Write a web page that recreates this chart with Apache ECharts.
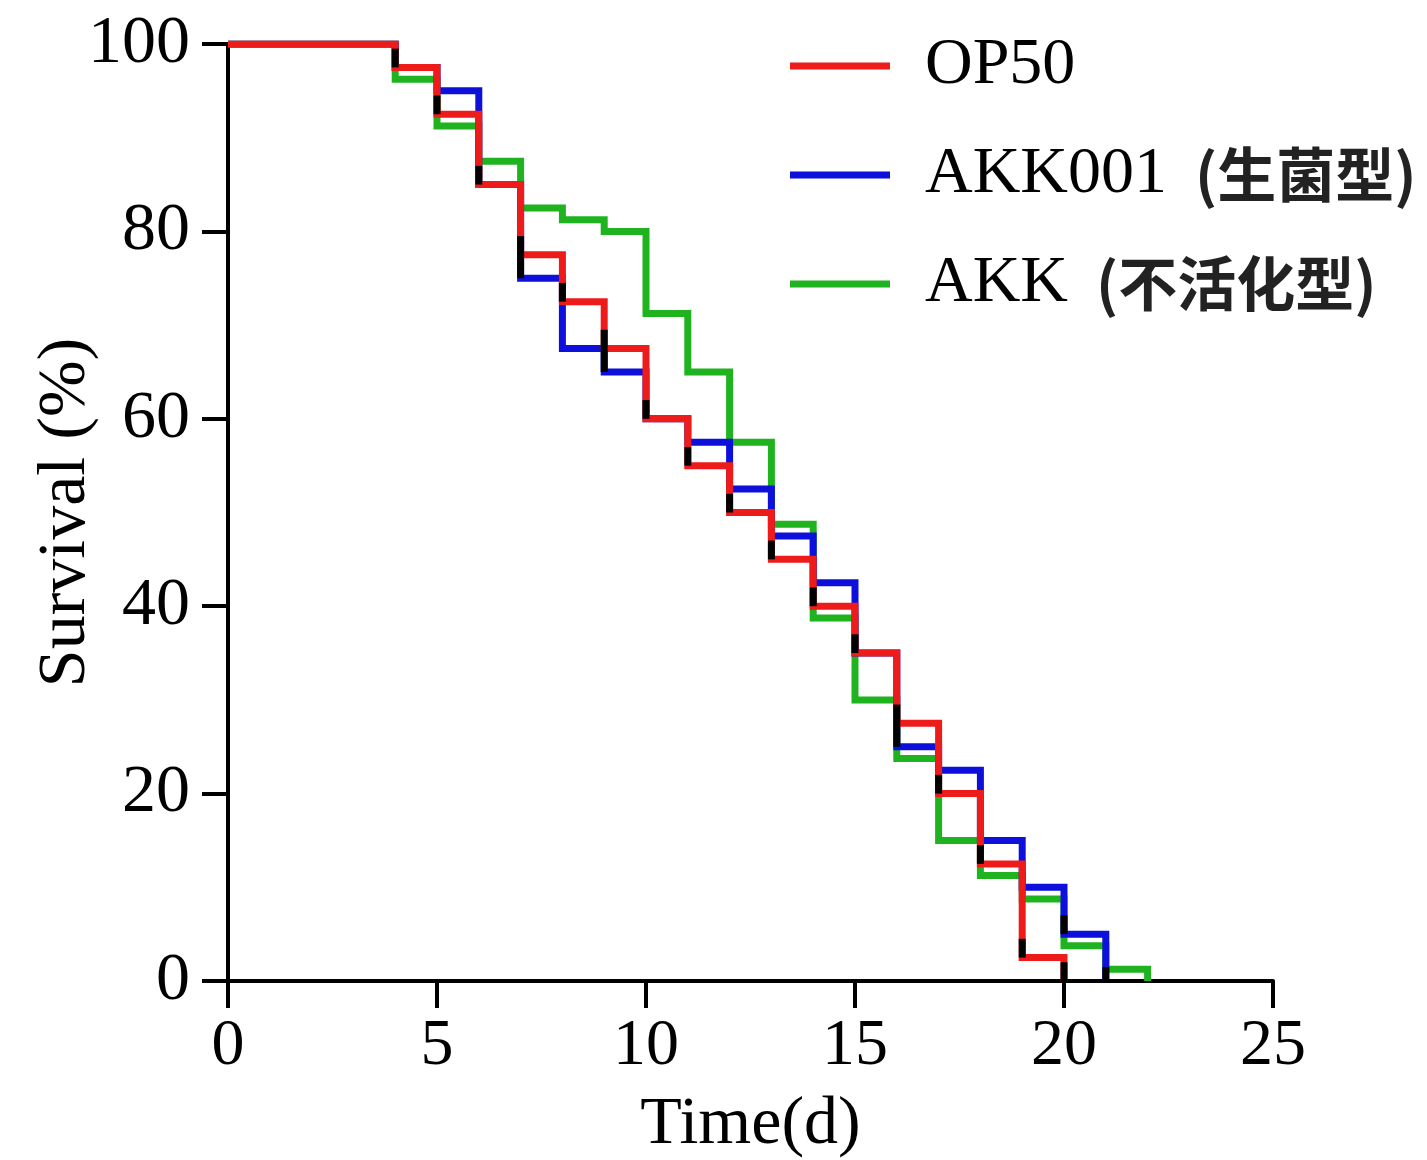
<!DOCTYPE html>
<html>
<head>
<meta charset="utf-8">
<script src="https://cdn.jsdelivr.net/npm/echarts@6/dist/echarts.min.js"></script>
<style>
html,body{margin:0;padding:0;background:#fff;}
#chart{width:1427px;height:1160px;}
</style>
</head>
<body>
<div id="chart"></div>
<script>
// Survival (%) at each day (Kaplan-Meier steps)
const seriesNames = ['OP50', 'AKK001 (生菌型)', 'AKK (不活化型)'];
const op50Days = [0, 4, 5, 6, 7, 8, 9, 10, 11, 12, 13, 14, 15, 16, 17, 18, 19, 20];
const op50Surv = [100, 97.5, 92.5, 85, 77.5, 72.5, 67.5, 60, 55, 50, 45, 40, 35, 27.5, 20, 12.5, 2.5, 0];
const akkLiveDays = [0, 4, 5, 6, 7, 8, 9, 10, 11, 12, 13, 14, 15, 16, 17, 18, 19, 20, 21];
const akkLiveSurv = [100, 97.5, 95, 85, 75, 67.5, 65, 60, 57.5, 52.5, 47.5, 42.5, 35, 25, 22.5, 15, 10, 5, 0];
const akkDeadDays = [0, 4, 5, 6, 7, 8, 9, 10, 11, 12, 13, 14, 15, 16, 17, 18, 19, 20, 21, 22];
const akkDeadSurv = [100, 96.25, 91.25, 87.5, 82.5, 81.25, 80, 71.25, 65, 57.5, 48.75, 38.75, 30, 23.75, 15, 11.25, 8.75, 3.75, 1.25, 0];
// black tick marks on drops: day, low %, high %
const markDays = [4, 5, 6, 7, 8, 9, 10, 11, 12, 13, 14, 15, 16, 17, 18, 19, 20, 20, 21];
const markLow  = [97.5, 92.5, 85, 75, 72.5, 65, 60, 55, 50, 45, 40, 35, 25, 20, 12.5, 2.5, 5, 0, 0];
const markHigh = [99.5, 94.5, 87, 79.5, 74.5, 69.5, 62, 57, 52, 47, 42, 37, 29.5, 22, 14.5, 4.5, 7, 2, 1.5];
const xTicks = [0, 5, 10, 15, 20, 25];
const yTicks = [0, 20, 40, 60, 80, 100];

const colors = ['#ee1b1b', '#0c10da', '#1fb41f'];
const zip = (a, b) => a.map((v, i) => [v, b[i]]);
const marks = markDays.map((d, i) => [d, markLow[i], markHigh[i]]);

const serif = "'Liberation Serif', 'Times New Roman', serif";
const cjk = "'Noto Sans CJK SC', sans-serif";

const chart = echarts.init(document.getElementById('chart'));
chart.setOption({
  animation: false,
  backgroundColor: '#fff',
  grid: { left: 228, right: 154, top: 44, bottom: 179, containLabel: false, outerBoundsMode: 'none' },
  legend: {
    data: seriesNames,
    orient: 'vertical',
    left: 790,
    top: 33,
    padding: 0,
    itemWidth: 100,
    itemHeight: 7,
    itemGap: 43,
    icon: 'rect',
    selectedMode: false,
    formatter: function (name) {
      const i = name.indexOf(' ');
      if (i < 0) return '{a|' + name + '}';
      return '{a|' + name.slice(0, i) + '}{b|' + name.slice(i + 1) + '}';
    },
    textStyle: {
      rich: {
        a: { fontFamily: serif, fontSize: 66, color: '#000', lineHeight: 70, padding: [0, 0, 0, 30] },
        b: { fontFamily: cjk, fontWeight: 'bold', fontSize: 59, color: '#222', lineHeight: 70, padding: [0, 0, 0, 28] }
      }
    }
  },
  xAxis: {
    type: 'value',
    min: 0, max: 25, interval: 5,
    name: 'Time(d)',
    nameLocation: 'middle',
    nameGap: 110,
    nameMoveOverlap: false,
    nameTextStyle: { fontFamily: serif, fontSize: 68, color: '#000' },
    axisLine: { show: true, onZero: false, lineStyle: { color: '#000', width: 4 } },
    axisTick: { show: true, length: 27, lineStyle: { color: '#000', width: 4 } },
    axisLabel: {
      margin: 33, fontFamily: serif, fontSize: 66, color: '#000',
      formatter: v => xTicks.includes(v) ? String(v) : ''
    },
    splitLine: { show: false }
  },
  yAxis: {
    type: 'value',
    min: 0, max: 100, interval: 20,
    name: 'Survival (%)',
    nameLocation: 'middle',
    nameRotate: 90,
    nameGap: 128,
    nameMoveOverlap: false,
    nameTextStyle: { fontFamily: serif, fontSize: 68, color: '#000' },
    axisLine: { show: true, onZero: false, lineStyle: { color: '#000', width: 4 } },
    axisTick: { show: true, length: 26, lineStyle: { color: '#000', width: 4 } },
    axisLabel: {
      margin: 38, fontFamily: serif, fontSize: 68, color: '#000',
      formatter: v => yTicks.includes(v) ? String(v) : ''
    },
    splitLine: { show: false }
  },
  series: [
    {
      name: seriesNames[2], type: 'line', step: 'end', data: zip(akkDeadDays, akkDeadSurv),
      showSymbol: false, symbol: 'none', z: 2,
      lineStyle: { color: colors[2], width: 7, join: 'miter', cap: 'butt' },
      itemStyle: { color: colors[2] }
    },
    {
      name: seriesNames[1], type: 'line', step: 'end', data: zip(akkLiveDays, akkLiveSurv),
      showSymbol: false, symbol: 'none', z: 3,
      lineStyle: { color: colors[1], width: 7, join: 'miter', cap: 'butt' },
      itemStyle: { color: colors[1] }
    },
    {
      name: seriesNames[0], type: 'line', step: 'end', data: zip(op50Days, op50Surv),
      showSymbol: false, symbol: 'none', z: 4,
      lineStyle: { color: colors[0], width: 7, join: 'miter', cap: 'butt' },
      itemStyle: { color: colors[0] }
    },
    {
      name: 'marks', type: 'custom', z: 5, data: marks,
      encode: { x: 0, y: [1, 2] },
      renderItem: function (params, api) {
        const p1 = api.coord([api.value(0), api.value(1)]);
        const p2 = api.coord([api.value(0), api.value(2)]);
        return {
          type: 'line',
          shape: { x1: p1[0], y1: p1[1], x2: p2[0], y2: p2[1] },
          style: { stroke: '#000', lineWidth: 7 }
        };
      }
    }
  ]
});
</script>
</body>
</html>
